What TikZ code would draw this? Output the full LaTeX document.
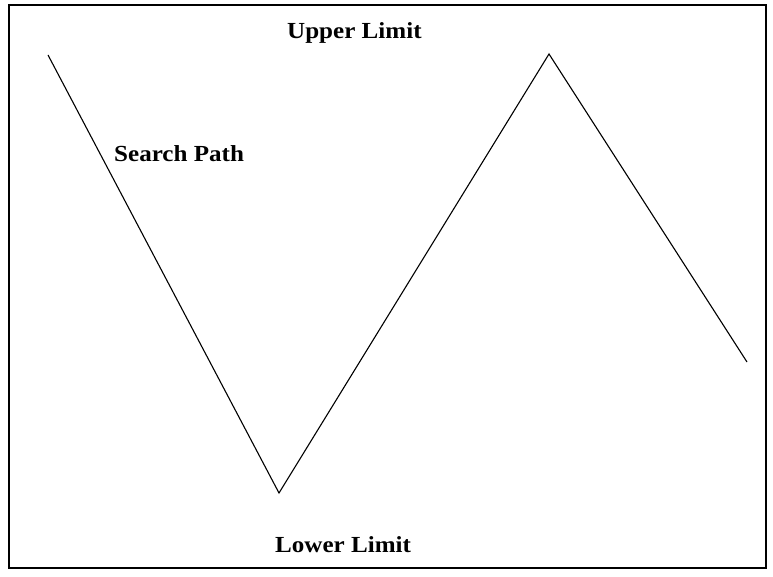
\documentclass[tikz,border=0pt]{standalone}
\usepackage{fontspec}
\setmainfont{Liberation Serif}
\newcommand{\widetxt}[1]{\scalebox{1.09}[1]{#1}}
\begin{document}
\begin{tikzpicture}[x=1pt,y=-1pt,
  lbl/.style={inner sep=0pt,anchor=base west,font=\fontsize{23}{25}\selectfont\bfseries},
  pathline/.style={line width=1.1pt,line join=miter}]
\useasboundingbox (0,0) rectangle (773,577);
\draw[line width=2.6pt] (9,5) rectangle (766,568);
\coordinate (p1) at (48,55);
\coordinate (p2) at (279,493);
\coordinate (p3) at (549,54);
\coordinate (p4) at (747,362);
\draw[pathline] (p1) -- (p2) -- (p3) -- (p4);
\node[lbl] (upper) at (287,39) {\widetxt{Upper Limit}};
\node[lbl] (search) at (114,162) {\widetxt{Search Path}};
\node[lbl] (lower) at (275,552) {\widetxt{Lower Limit}};
\end{tikzpicture}
\end{document}
